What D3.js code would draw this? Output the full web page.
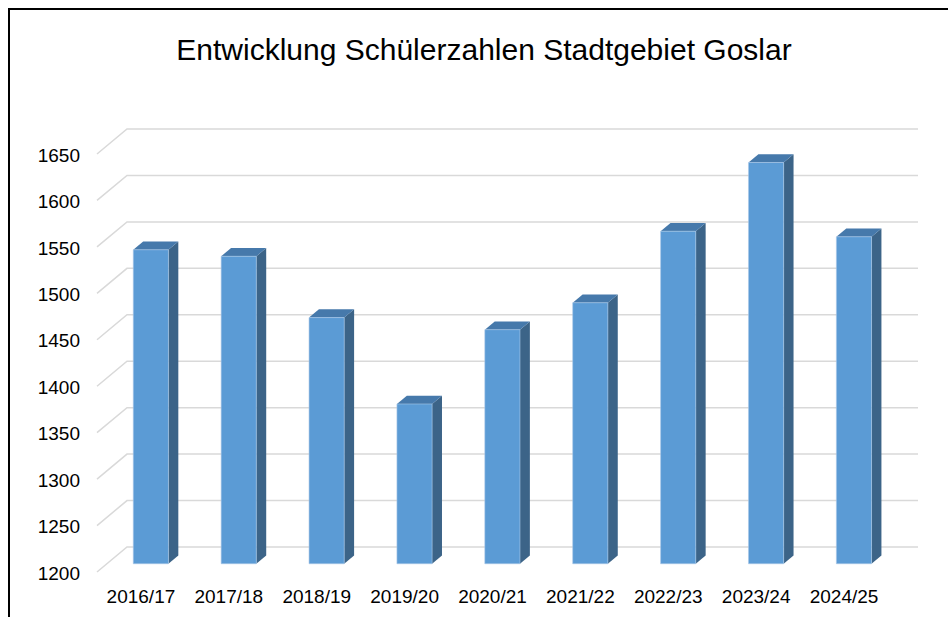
<!DOCTYPE html>
<html>
<head>
<meta charset="utf-8">
<script src="https://cdn.jsdelivr.net/npm/d3@7"></script>
<style>
  body { margin: 0; background: #fff; }
  text { font-family: "Liberation Sans", Arial, sans-serif; fill: #000; }
</style>
</head>
<body>
<div id="chart"></div>
<script>
var width = 948,
    height = 617;

// data
var years = ["2016/17", "2017/18", "2018/19", "2019/20", "2020/21", "2021/22", "2022/23", "2023/24", "2024/25"];
var pupils = [1538, 1531, 1465, 1372, 1452, 1481, 1558, 1632, 1552];
var ticks = [1200, 1250, 1300, 1350, 1400, 1450, 1500, 1550, 1600, 1650];

// depth of the 3d box (front plane -> back wall)
var depthX = 30,
    depthY = -25,
    barD0 = 0.33,
    barD1 = 0.66;

var svg = d3.select("#chart").append("svg")
    .attr("width", width)
    .attr("height", height)

// frame, only top/left edge is visible
svg.append("rect")
    .attr("x", 9).attr("y", 9)
    .attr("width", width + 20).attr("height", height + 20)
    .attr("fill", "none")
    .attr("stroke", "#000")
    .attr("stroke-width", 2)

svg.append("text")
    .attr("x", 484)
    .attr("y", 60)
    .attr("text-anchor", "middle")
    .style("font-size", "30px")
    .text("Entwicklung Schülerzahlen Stadtgebiet Goslar")

var x = d3.scaleBand()
    .domain(years)
    .range([97, 888])
    .paddingInner(0.6)
    .paddingOuter(0.3)

var y = d3.scaleLinear()
    .domain([1200, 1650])
    .range([572, 154])

/* gridlines: side wall diagonal + back wall */
var grid = svg.append("g").attr("stroke", "#d9d9d9").attr("stroke-width", 1.5).attr("fill", "none")
grid.selectAll("path")
    .data(ticks)
    .enter().append("path")
    .attr("d", function(d){
        return "M97," + y(d) + "L" + (97 + depthX) + "," + (y(d) + depthY) + "L" + (888 + depthX) + "," + (y(d) + depthY)
    })

/* y tick labels */
svg.append("g").selectAll("text")
    .data(ticks)
    .enter().append("text")
    .attr("x", 80)
    .attr("y", function(d){return y(d) + 1})
    .attr("dy", "0.35em")
    .attr("text-anchor", "end")
    .style("font-size", "19px")
    .text(function(d){return d})

/* bars */
function pt(px, py, d) {
    return (px + d * depthX) + "," + (py + d * depthY)
}

var bars = svg.append("g").selectAll("g")
    .data(years.map(function(c, i){return {c: c, v: pupils[i]}}))
    .enter().append("g")

// right side
bars.append("polygon")
    .attr("fill", "#3c6488")
    .attr("points", function(d){
        var x1 = x(d.c) + x.bandwidth()
        return [pt(x1, y(1200), barD0), pt(x1, y(1200), barD1), pt(x1, y(d.v), barD1), pt(x1, y(d.v), barD0)].join(" ")
    })

// top
bars.append("polygon")
    .attr("fill", "#4679ab")
    .attr("points", function(d){
        var x0 = x(d.c), x1 = x0 + x.bandwidth()
        return [pt(x0, y(d.v), barD0), pt(x1, y(d.v), barD0), pt(x1, y(d.v), barD1), pt(x0, y(d.v), barD1)].join(" ")
    })

// front
bars.append("polygon")
    .attr("fill", "#5b9bd5")
    .attr("stroke", "#a9c8e8")
    .attr("stroke-width", 0.6)
    .attr("points", function(d){
        var x0 = x(d.c), x1 = x0 + x.bandwidth()
        return [pt(x0, y(1200), barD0), pt(x1, y(1200), barD0), pt(x1, y(d.v), barD0), pt(x0, y(d.v), barD0)].join(" ")
    })

/* category labels */
svg.append("g").selectAll("text")
    .data(years)
    .enter().append("text")
    .attr("x", function(d){return x(d) + x.bandwidth() / 2})
    .attr("y", 603)
    .attr("text-anchor", "middle")
    .style("font-size", "19px")
    .text(function(d){return d})
</script>
</body>
</html>
